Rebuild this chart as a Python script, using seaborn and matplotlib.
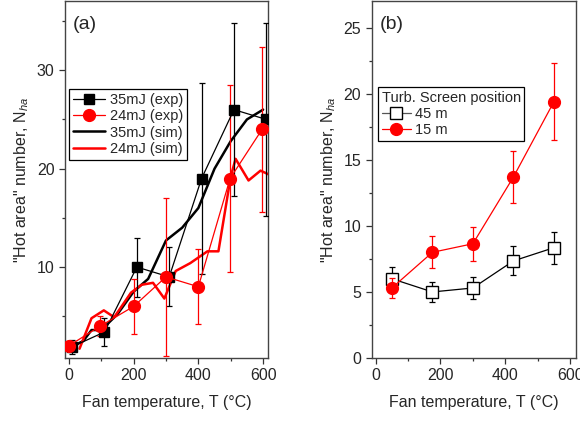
import numpy as np
import pandas as pd
import seaborn as sns
import matplotlib
matplotlib.use("Agg")
import matplotlib.pyplot as plt
from matplotlib.lines import Line2D
from matplotlib.ticker import MultipleLocator

# ---------------- data: panel (a) ----------------
exp35_T = [10, 110, 210, 310, 410, 510, 610]
exp35_N = [1.9, 3.4, 10.0, 9.0, 19.0, 26.0, 25.0]
exp35_err = [0.7, 1.4, 3.0, 3.0, 9.7, 8.8, 9.8]

exp24_T = [0, 97, 200, 300, 400, 498, 597]
exp24_N = [2.0, 4.0, 6.0, 9.0, 8.0, 19.0, 24.0]
exp24_err = [0.5, 1.0, 2.8, 8.0, 3.8, 9.5, 8.4]

sim35_T = [10, 45, 70, 100, 150, 200, 245, 300, 350, 400, 450, 500, 550, 600]
sim35_N = [1.9, 2.5, 3.6, 3.6, 5.2, 7.5, 8.8, 12.7, 14.0, 16.0, 20.0, 22.8, 25.0, 26.0]

sim24_T = [33, 70, 108, 140, 192, 225, 260, 295, 330, 375, 428, 462, 500, 515, 555, 592, 625]
sim24_N = [1.7, 4.8, 5.6, 4.9, 7.4, 8.2, 8.4, 6.8, 9.6, 10.4, 11.6, 11.6, 19.2, 21.0, 18.8, 19.8, 19.3]

# ---------------- data: panel (b) ----------------
b_T = [50, 175, 300, 425, 550]
b45_N = [6.0, 5.0, 5.3, 7.35, 8.35]
b45_err = [0.9, 0.75, 0.8, 1.1, 1.2]
b15_N = [5.3, 8.0, 8.65, 13.7, 19.4]
b15_err = [0.75, 1.2, 1.3, 2.0, 2.9]

sns.set_style("ticks")
plt.rcParams['font.family'] = ['Liberation Sans', 'DejaVu Sans']
plt.rcParams['mathtext.fontset'] = 'custom'
plt.rcParams['mathtext.rm'] = 'Liberation Sans'
plt.rcParams['mathtext.it'] = 'Liberation Sans:italic'
plt.rcParams['xtick.direction'] = 'out'
plt.rcParams['ytick.direction'] = 'out'

fig = plt.figure(figsize=(5.8, 4.22), dpi=100)
axa = fig.add_axes([0.112, 0.1517, 0.350, 0.845])
axb = fig.add_axes([0.641, 0.1517, 0.352, 0.845])

RED = '#ff0000'
FS = 11.5
ylab = '"Hot area" number, N$_{\\mathit{ha}}$'

# ---- panel (a) ----
df35 = pd.DataFrame({'T': sim35_T, 'N': sim35_N})
df24 = pd.DataFrame({'T': sim24_T, 'N': sim24_N})
sns.lineplot(data=df35, x='T', y='N', ax=axa, color='black', lw=1.8, sort=False, zorder=3)
sns.lineplot(data=df24, x='T', y='N', ax=axa, color=RED, lw=1.8, sort=False, zorder=3)

axa.errorbar(exp35_T, exp35_N, yerr=exp35_err, color='black', lw=0.9, capsize=2.5,
             capthick=0.9, marker='s', ms=7.5, mfc='black', mec='black', zorder=4)
axa.errorbar(exp24_T, exp24_N, yerr=exp24_err, color=RED, lw=0.9, capsize=2.5,
             capthick=0.9, marker='o', ms=8.5, mfc=RED, mec=RED, zorder=4)

axa.set_xlim(-12, 615)
axa.set_ylim(0.76, 37.0)
axa.xaxis.set_major_locator(MultipleLocator(200))
axa.xaxis.set_minor_locator(MultipleLocator(100))
axa.yaxis.set_major_locator(MultipleLocator(10))
axa.yaxis.set_minor_locator(MultipleLocator(5))
axa.text(0.04, 0.96, '(a)', transform=axa.transAxes, fontsize=14, va='top', ha='left')

handles_a = [
    Line2D([], [], color='black', lw=0.9, marker='s', ms=7.5, mfc='black'),
    Line2D([], [], color=RED, lw=0.9, marker='o', ms=8.5, mfc=RED),
    Line2D([], [], color='black', lw=1.8),
    Line2D([], [], color=RED, lw=1.8),
]
leg = axa.legend(handles_a, ['35mJ (exp)', '24mJ (exp)', '35mJ (sim)', '24mJ (sim)'],
                 loc='upper left', bbox_to_anchor=(0.02, 0.755), fontsize=10.5,
                 frameon=True, fancybox=False, edgecolor='black', framealpha=1,
                 handlelength=2.2, handletextpad=0.3, borderpad=0.3, labelspacing=0.15,
                 borderaxespad=0)
leg.get_frame().set_linewidth(0.9)

# ---- panel (b) ----
axb.errorbar(b_T, b45_N, yerr=b45_err, color='black', lw=0.9, capsize=2.5, capthick=0.9,
             marker='s', ms=8, mfc='white', mec='black', zorder=3)
axb.errorbar(b_T, b15_N, yerr=b15_err, color=RED, lw=0.9, capsize=2.5, capthick=0.9,
             marker='o', ms=8.5, mfc=RED, mec=RED, zorder=4)
axb.set_xlim(-12, 618)
axb.set_ylim(0, 27)
axb.xaxis.set_major_locator(MultipleLocator(200))
axb.xaxis.set_minor_locator(MultipleLocator(100))
axb.yaxis.set_major_locator(MultipleLocator(5))
axb.yaxis.set_minor_locator(MultipleLocator(2.5))
axb.text(0.04, 0.96, '(b)', transform=axb.transAxes, fontsize=14, va='top', ha='left')

handles_b = [
    Line2D([], [], color='#555555', lw=0.9, marker='s', ms=8, mfc='white', mec='black'),
    Line2D([], [], color=RED, lw=0.9, marker='o', ms=8.5, mfc=RED),
]
legb = axb.legend(handles_b, ['45 m', '15 m'], title='Turb. Screen position',
                  loc='upper left', bbox_to_anchor=(0.03, 0.76), fontsize=10.5,
                  title_fontsize=10.5, frameon=True, fancybox=False, edgecolor='black',
                  framealpha=1, handlelength=2.0, handletextpad=0.3, borderpad=0.25,
                  labelspacing=0.15, borderaxespad=0)
legb._legend_box.align = 'left'
legb.get_frame().set_linewidth(0.9)

for ax in (axa, axb):
    ax.set_xlabel('Fan temperature, T (°C)', fontsize=FS, labelpad=8)
    ax.set_ylabel(ylab, fontsize=FS, labelpad=4)
    ax.tick_params(which='major', length=4, width=0.9, labelsize=FS, color='#333333')
    ax.tick_params(which='minor', length=2.5, width=0.9, color='#333333')
    for s in ax.spines.values():
        s.set_visible(True)
        s.set_color('#444444')
        s.set_linewidth(1.0)

fig.savefig('out.png', dpi=100)
